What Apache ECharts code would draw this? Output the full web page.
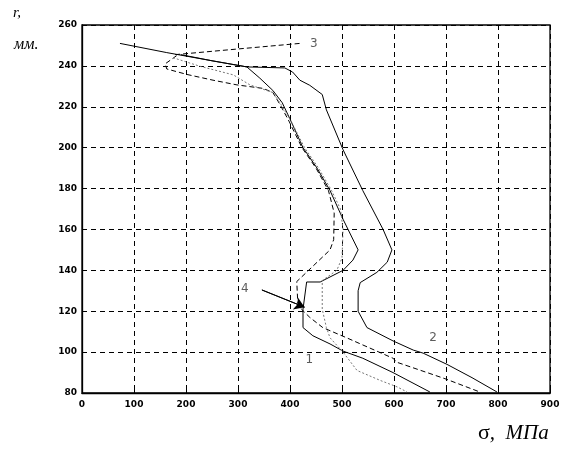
<!DOCTYPE html>
<html>
<head>
<meta charset="utf-8">
<script src="https://cdn.jsdelivr.net/npm/echarts@6/dist/echarts.min.js"></script>
<style>
  html, body { margin: 0; padding: 0; background: #fff; }
  #chart { width: 565px; height: 455px; }
</style>
</head>
<body>
<div id="chart"></div>
<script>
// Stress distribution sigma (MPa) over radius r (mm), four profiles.
const sigmaTicks = [0, 100, 200, 300, 400, 500, 600, 700, 800, 900];
const radiusTicks = [80, 100, 120, 140, 160, 180, 200, 220, 240, 260];

// [sigma, r] pairs
const curveOuter = [
  [73, 251], [163, 246.5], [250, 242.5], [317, 239.5], [390, 239], [405, 237],
  [419, 233], [438, 230.5], [462, 226], [470, 218.5], [502, 199], [540, 179],
  [579, 160], [596, 150], [587, 144], [567, 139], [535, 134], [531, 130],
  [531, 120], [548, 112], [598, 105.5], [637, 101], [656, 99.5], [702, 94],
  [750, 87.5], [798, 80.5]
];
const curveInner = [
  [190, 245.5], [250, 242.5], [317, 239.5], [342, 234], [367, 228], [385, 222],
  [400, 214], [425, 200], [452, 190], [477, 179], [502, 165], [531, 150],
  [521, 145], [502, 140], [458, 134.3], [432, 134.3], [425, 121], [425, 112],
  [444, 108], [477, 104], [502, 100.5], [540, 97], [598, 90], [669, 80.5]
];
const curveDashed = [
  [182, 245], [160, 241], [163, 238.5], [202, 235.8], [252, 233], [298, 230.7],
  [348, 229], [367, 227], [381, 221], [398, 213], [423, 200], [450, 190],
  [474, 179], [485, 168], [484, 155], [477, 150], [413, 134.5], [415, 124],
  [422, 121], [438, 117], [463, 112], [509, 107], [540, 103.5], [598, 97],
  [606, 95], [698, 87], [765, 80.5]
];
const curveDotted = [
  [175, 244], [227, 239.8], [291, 235.6], [323, 230.7], [367, 227], [383, 221],
  [402, 213], [428, 200], [455, 190], [480, 179], [497, 170], [502, 160],
  [500, 146], [490, 140], [462, 135], [462, 121], [470, 112], [477, 107],
  [502, 100], [529, 91], [575, 86], [606, 83], [625, 80.5]
];

// curve numbers: [text, sigma, r]
const curveLabels = [
  ['1', 437, 96],
  ['2', 675, 107],
  ['3', 446, 251],
  ['4', 313, 131]
];
// leader line to label 3 and the arrow from label 4
const leader3 = [[179, 245.5], [419, 251]];
const arrow4 = [[346, 130.4], [428, 122]];

const chart = echarts.init(document.getElementById('chart'), null, { renderer: 'canvas' });

function lineSeries(data, type, color) {
  return {
    type: 'line',
    data: data,
    symbol: 'none',
    smooth: false,
    animation: false,
    lineStyle: { color: color || '#000', width: 1, type: type }
  };
}

const tickFont = {
  color: '#000',
  fontFamily: 'DejaVu Sans',
  fontWeight: 'bold',
  fontSize: 9
};

chart.setOption({
  backgroundColor: '#fff',
  animation: false,
  grid: {
    left: 82, right: 15, top: 25, bottom: 62,
    show: true, borderColor: '#000', borderWidth: 1.3
  },
  xAxis: {
    type: 'value',
    min: sigmaTicks[0], max: sigmaTicks[sigmaTicks.length - 1], interval: 100,
    axisLine: { show: true, lineStyle: { color: '#000', width: 1.3 } },
    axisTick: { show: true, inside: true, length: 4, lineStyle: { color: '#000' } },
    axisLabel: Object.assign({ margin: 7 }, tickFont),
    splitLine: { show: true, lineStyle: { color: '#000', width: 1, type: [5, 4] } }
  },
  yAxis: {
    type: 'value',
    min: radiusTicks[0], max: radiusTicks[radiusTicks.length - 1], interval: 20,
    axisLine: { show: true, lineStyle: { color: '#000', width: 1.3 } },
    axisTick: { show: true, inside: true, length: 4, lineStyle: { color: '#000' } },
    axisLabel: Object.assign({ margin: 5 }, tickFont),
    splitLine: { show: true, lineStyle: { color: '#000', width: 1, type: [5, 4] } }
  },
  series: [
    lineSeries(curveOuter, 'solid'),
    lineSeries(curveInner, 'solid'),
    lineSeries(curveDashed, [5, 3]),
    lineSeries(curveDotted, [2, 2], '#777'),
    lineSeries(leader3, [5, 3]),
    {
      type: 'line',
      data: arrow4,
      symbol: 'none',
      lineStyle: { color: '#000', width: 1 },
      markLine: {
        silent: true,
        symbol: ['none', 'arrow'],
        symbolSize: 10,
        label: { show: false },
        lineStyle: { color: '#000', width: 1, type: 'solid' },
        data: [[{ coord: arrow4[0] }, { coord: arrow4[1] }]]
      }
    },
    {
      type: 'scatter',
      symbolSize: 0,
      data: curveLabels.map(d => ({ value: [d[1], d[2]], name: d[0] })),
      label: {
        show: true,
        position: 'inside',
        formatter: p => p.name,
        color: '#333',
        fontFamily: 'DejaVu Sans',
        fontSize: 12
      }
    }
  ],
  graphic: [
    {
      type: 'text', left: 13, top: 6,
      style: { text: 'r,', font: 'italic 15px "Liberation Serif"', fill: '#000' }
    },
    {
      type: 'text', left: 14, top: 37,
      style: { text: 'мм.', font: 'italic 16px "Liberation Serif"', fill: '#000' }
    },
    {
      type: 'text', left: 478, top: 422,
      style: {
        text: '{a|σ}{b|,  МПа}',
        rich: {
          a: { font: '22px "Liberation Serif"', fill: '#000' },
          b: { font: 'italic 21px "Liberation Serif"', fill: '#000' }
        }
      }
    }
  ]
});
</script>
</body>
</html>
